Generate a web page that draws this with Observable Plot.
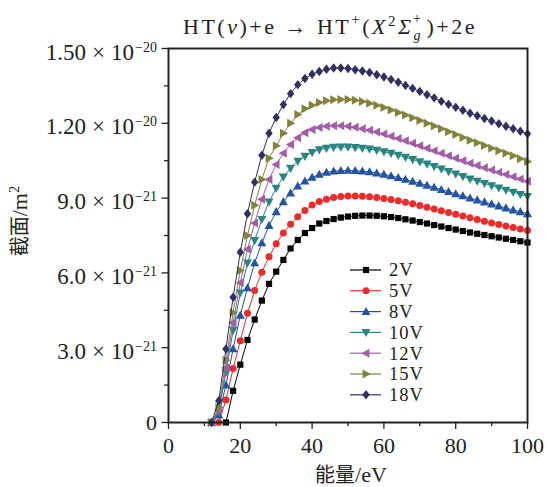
<!DOCTYPE html>
<html><head><meta charset="utf-8">
<script src="https://cdn.jsdelivr.net/npm/d3@7"></script>
<script src="https://cdn.jsdelivr.net/npm/@observablehq/plot@0.6"></script>
<style>
html,body{margin:0;padding:0;background:#fff;}
#chart{width:548px;height:487px;overflow:hidden;}
</style>
</head><body><div id="chart"></div>
<script>
// ---- data (cross section in units of 1e-21 m^2) ----
const energy = [12,14,16,18,20,22,24,26,28,30,32,34,36,38,40,42,44,46,48,50,52,54,56,58,60,62,64,66,68,70,72,74,76,78,80,82,84,86,88,90,92,94,96,98,100];
const s2V  = [null,null,0,1.27,2.32,3.31,4.13,4.89,5.56,6.05,6.52,6.98,7.32,7.6,7.8,7.98,8.08,8.16,8.22,8.26,8.29,8.3,8.3,8.29,8.27,8.24,8.2,8.15,8.1,8.04,7.98,7.92,7.86,7.8,7.74,7.68,7.62,7.57,7.52,7.47,7.42,7.37,7.32,7.27,7.22];
const s5V  = [null,0,0.9,2.17,3.28,4.38,5.29,6.03,6.65,7.17,7.6,7.95,8.25,8.5,8.72,8.86,8.95,9.02,9.06,9.08,9.08,9.07,9.05,9.02,8.98,8.94,8.89,8.83,8.77,8.7,8.63,8.56,8.49,8.42,8.35,8.28,8.21,8.14,8.07,8.0,7.94,7.88,7.82,7.76,7.7];
const s8V  = [0,0.3,1.5,2.95,4.3,5.4,6.4,7.2,7.9,8.45,8.85,9.2,9.48,9.68,9.83,9.95,10.03,10.08,10.1,10.11,10.1,10.08,10.05,10.0,9.95,9.89,9.82,9.75,9.67,9.59,9.51,9.43,9.34,9.26,9.17,9.09,9.0,8.92,8.84,8.76,8.68,8.6,8.52,8.45,8.37];
const s10V = [0,0.4,2.0,3.7,5.2,6.4,7.3,8.15,8.85,9.4,9.85,10.2,10.48,10.68,10.83,10.94,11.0,11.04,11.05,11.05,11.03,11.0,10.97,10.92,10.86,10.8,10.72,10.64,10.55,10.46,10.37,10.27,10.17,10.07,9.97,9.87,9.77,9.68,9.59,9.5,9.41,9.32,9.24,9.15,9.07];
const s12V = [0,0.5,2.2,4.0,5.6,6.95,8.0,8.95,9.75,10.35,10.8,11.15,11.42,11.62,11.75,11.83,11.88,11.9,11.9,11.88,11.84,11.78,11.72,11.65,11.57,11.48,11.39,11.3,11.2,11.1,11.0,10.9,10.8,10.7,10.6,10.5,10.4,10.31,10.22,10.13,10.04,9.95,9.86,9.77,9.68];
const s15V = [0,0.6,2.5,4.4,6.1,7.5,8.71,9.75,10.6,11.1,11.6,12.0,12.35,12.58,12.72,12.83,12.9,12.94,12.95,12.95,12.92,12.87,12.8,12.72,12.63,12.53,12.43,12.33,12.22,12.11,12.0,11.89,11.78,11.66,11.55,11.43,11.32,11.22,11.11,11.0,10.9,10.8,10.7,10.58,10.47];
const s18V = [0,0.87,2.95,5.02,6.83,8.37,9.64,10.72,11.6,12.23,12.75,13.19,13.55,13.8,13.97,14.08,14.17,14.22,14.22,14.2,14.15,14.1,14.04,13.95,13.86,13.76,13.65,13.52,13.4,13.28,13.15,13.02,12.88,12.76,12.64,12.52,12.4,12.3,12.19,12.09,11.98,11.88,11.78,11.68,11.58];

const seriesNames  = ["2V","5V","8V","10V","12V","15V","18V"];
const seriesValues = [s2V, s5V, s8V, s10V, s12V, s15V, s18V];
const seriesColors = ["#000000","#ee2b2b","#2353a2","#288580","#a35ca8","#82823c","#2f3062"];

const xMajor = [0,20,40,60,80,100];
const xMinor = [10,30,50,70,90];
const yMajor = [0,3,6,9,12,15];
const yMinor = [1.5,4.5,7.5,10.5,13.5];
const yMantissa = ["0","3.0","6.0","9.0","1.20","1.50"];
const yExponent = ["","−21","−21","−21","−20","−20"];

// ---- marker shapes ----
function poly(pts){
  return {draw(ctx, size){
    const r = Math.sqrt(size/Math.PI);
    ctx.moveTo(pts[0][0]*r, pts[0][1]*r);
    for (let k=1;k<pts.length;k++) ctx.lineTo(pts[k][0]*r, pts[k][1]*r);
    ctx.closePath();
  }};
}
const symCircle = {draw(ctx,size){const r=Math.sqrt(size/Math.PI);ctx.moveTo(r,0);ctx.arc(0,0,r,0,2*Math.PI);}};
const seriesSymbols = [
  poly([[-1,-1],[1,-1],[1,1],[-1,1]]),
  symCircle,
  poly([[0,-1.05],[1,0.75],[-1,0.75]]),
  poly([[0,1.05],[1,-0.75],[-1,-0.75]]),
  poly([[-1.05,0],[0.75,-1],[0.75,1]]),
  poly([[1.05,0],[-0.75,-1],[-0.75,1]]),
  poly([[0,-1.15],[0.9,0],[0,1.15],[-0.9,0]])
];
const seriesR = [3.1, 3.5, 4.5, 4.5, 4.5, 4.5, 4.1];

const rows = seriesNames.map((name, i) =>
  energy.map((e, j) => ({energy: e, sigma: seriesValues[i][j], series: name}))
        .filter(d => d.sigma !== null));

const marks = [];
seriesNames.forEach((name, i) => {
  marks.push(Plot.line(rows[i], {x:"energy", y:"sigma", stroke: seriesColors[i], strokeWidth: 1}));
  marks.push(Plot.dot(rows[i], {x:"energy", y:"sigma", symbol: seriesSymbols[i], r: seriesR[i], fill: seriesColors[i], stroke: "none"}));
});

const FONT = "'Liberation Serif', 'DejaVu Serif', serif";
const CJK = "'Noto Sans CJK SC', sans-serif";

const chart = Plot.plot({
  width: 548, height: 487,
  marginLeft: 168, marginRight: 21, marginTop: 48, marginBottom: 65,
  style: {fontFamily: FONT, fontSize: "22px", color: "#222", background: "#fff", overflow: "visible"},
  x: {domain: [0,100], label: null},
  y: {domain: [0,15], label: null},
  marks: [
    Plot.axisX({ticks: xMinor, tickSize: 4, strokeWidth: 1.3, tickFormat: () => "", label: null}),
    Plot.axisX({ticks: xMajor, tickSize: 7, strokeWidth: 1.3, tickPadding: 8, tickFormat: d => String(d), label: null}),
    Plot.axisY({ticks: yMinor, tickSize: 4, strokeWidth: 1.3, tickFormat: () => "", label: null}),
    Plot.axisY({ticks: yMajor, tickSize: 6.5, strokeWidth: 1.3, tickPadding: 5, tickFormat: d => yMantissa[yMajor.indexOf(d)], label: null}),
    ...marks,
    Plot.frame({stroke: "#222", strokeWidth: 2})
  ]
});
document.getElementById("chart").appendChild(chart);

const svg = d3.select(chart);

// y tick labels with powers of ten
svg.selectAll('g[aria-label="y-axis tick label"] text').each(function(){
  const t = this.textContent;
  const i = yMantissa.indexOf(t);
  if (i < 0 || !yExponent[i]) return;
  const el = d3.select(this);
  el.text(null);
  el.append("tspan").attr("font-size", 23).text(yMantissa[i]);
  el.append("tspan").attr("font-size", 23).attr("dx", 6).text("×");
  el.append("tspan").attr("font-size", 23).attr("dx", 6).text("10");
  el.append("tspan").attr("dx", 1).attr("dy", -8).attr("font-size", 14).text(yExponent[i]);
  const tr = this.getAttribute("transform") || "";
  this.setAttribute("transform", tr + " translate(0,4)");
});

// title
const title = svg.append("text").attr("x", 183).attr("y", 34).attr("text-anchor","start")
  .attr("font-family", FONT).attr("font-size", 22).attr("letter-spacing", 2.5).attr("fill", "#222");
title.append("tspan").text("HT(");
title.append("tspan").attr("font-style","italic").text("v");
title.append("tspan").text(")+e");
title.append("tspan").attr("dx", 8).text("→");
title.append("tspan").attr("dx", 8).text("HT");
title.append("tspan").attr("dy",-10).attr("font-size",15).text("+");
title.append("tspan").attr("dy",10).text("(");
title.append("tspan").attr("font-style","italic").text("X");
title.append("tspan").attr("dy",-8).attr("font-size",15).text("2");
title.append("tspan").attr("dy",8).attr("font-style","italic").text("Σ");
title.append("tspan").attr("dy",6).attr("font-size",14).attr("font-style","italic").text("g");
title.append("tspan").attr("dx",-10).attr("dy",-17).attr("font-size",14).text("+");
title.append("tspan").attr("dx",3).attr("dy",11).text(")+2e");

// axis titles
const xl = svg.append("text").attr("x", 351).attr("y", 482).attr("text-anchor","middle")
  .attr("font-size", 22).attr("fill","#222");
xl.append("tspan").attr("font-family", CJK).attr("font-size", 20).text("能量");
xl.append("tspan").attr("font-family", FONT).text("/eV");

const yl = svg.append("text").attr("transform","translate(27,221) rotate(-90)").attr("text-anchor","middle")
  .attr("font-size", 22).attr("fill","#222");
yl.append("tspan").attr("font-family", CJK).attr("font-size", 20).text("截面");
yl.append("tspan").attr("font-family", FONT).text("/m");
yl.append("tspan").attr("font-family", FONT).attr("font-size", 14.5).attr("dy",-8).text("2");

// legend
const lg = svg.append("g").attr("font-family", FONT).attr("font-size", 18.5).attr("fill","#222").attr("text-anchor","start");
seriesNames.forEach((name, i) => {
  const yy = 270 + i*20.8;
  lg.append("line").attr("x1",350).attr("x2",381).attr("y1",yy).attr("y2",yy)
    .attr("stroke", seriesColors[i]).attr("stroke-width",1.2);
  lg.append("path").attr("transform",`translate(366,${yy})`)
    .attr("d", d3.symbol(seriesSymbols[i], seriesR[i]*seriesR[i]*Math.PI)())
    .attr("fill", seriesColors[i]);
  lg.append("text").attr("x",389).attr("y",yy).attr("dy","0.35em").attr("letter-spacing",1).attr("text-anchor","start").text(name);
});
</script>
</body></html>
